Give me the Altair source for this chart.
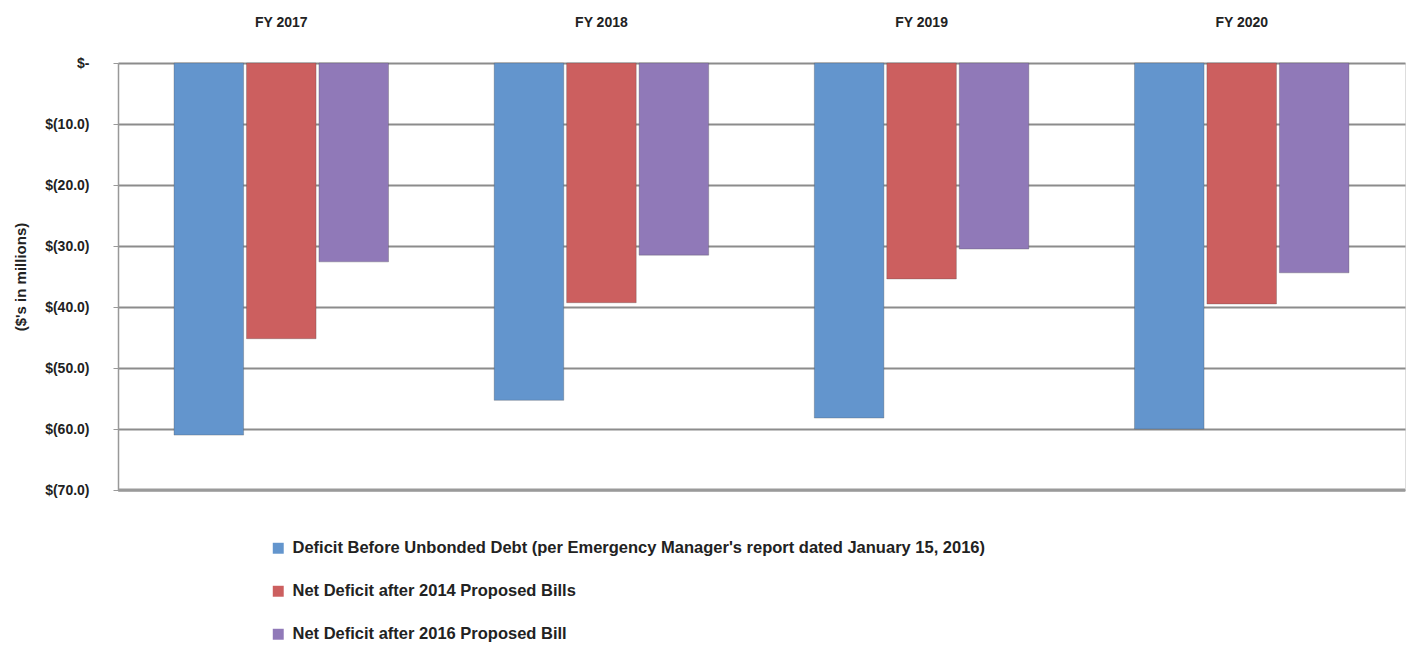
import altair as alt
import pandas as pd

years = ["FY 2017", "FY 2018", "FY 2019", "FY 2020"]
series = [
    "Deficit Before Unbonded Debt  (per Emergency Manager's report dated January 15, 2016)",
    "Net Deficit after 2014 Proposed Bills",
    "Net Deficit after 2016 Proposed Bill",
]
deficit_before = [-61.0, -55.3, -58.2, -60.0]
net_2014 = [-45.2, -39.3, -35.4, -39.5]
net_2016 = [-32.6, -31.5, -30.5, -34.4]
colors = ["#6395cd", "#cc5f5f", "#9079b8"]

rows = []
for vals, s in zip([deficit_before, net_2014, net_2016], series):
    for y, v in zip(years, vals):
        rows.append({"year": y, "series": s, "value": v})
df = pd.DataFrame(rows)

label_expr = "datum.value == 0 ? '$-' : '$(' + format(-datum.value, '.1f') + ')'"

bars = alt.Chart(df).mark_bar(stroke="#4a4a4a", strokeWidth=0.6, strokeOpacity=0.5).encode(
    x=alt.X("year:N", sort=years,
            scale=alt.Scale(paddingInner=0.33, paddingOuter=0.175),
            axis=alt.Axis(orient="top", title=None, labelAngle=0, ticks=False, domain=False,
                          labelPadding=34, labelFontSize=14, labelFontWeight="bold",
                          labelFont="Liberation Sans", labelColor="#222")),
    xOffset=alt.XOffset("series:N", sort=series, scale=alt.Scale(paddingInner=0.04)),
    y=alt.Y("value:Q", scale=alt.Scale(domain=[-70, 0], nice=False),
            axis=alt.Axis(title="($'s in millions)", values=[0, -10, -20, -30, -40, -50, -60, -70],
                          labelExpr=label_expr, labelFontSize=14, labelFontWeight="bold",
                          labelFont="Liberation Sans", labelColor="#222", labelPadding=24,
                          tickSize=5, tickColor="#999", domainColor="#999", domainWidth=1.5,
                          grid=True, gridColor="#8c8c8c", gridWidth=2,
                          titleFontSize=15, titleFontWeight="bold", titleFont="Liberation Sans",
                          titleColor="#222", titlePadding=16)),
    color=alt.Color("series:N", sort=series,
                    scale=alt.Scale(domain=series, range=colors),
                    legend=alt.Legend(orient="none", legendX=152, legendY=477, title=None,
                                      direction="vertical", symbolType="square", symbolSize=120,
                                      symbolStrokeWidth=0, labelFontSize=16.5,
                                      labelFontWeight="bold", labelFont="Liberation Sans",
                                      labelColor="#222", labelLimit=1000, rowPadding=26,
                                      labelOffset=6)),
)

base_line = alt.Chart(pd.DataFrame({"v": [-70]})).mark_rule(color="#9a9a9a", strokeWidth=3).encode(
    y=alt.Y("v:Q")
)

chart = alt.layer(bars, base_line).properties(
    width=1287, height=427,
    autosize=alt.AutoSizeParams(type="none"),
    padding={"left": 118, "top": 63, "right": 4, "bottom": 157},
).configure_view(stroke="#c8c8c8", strokeWidth=1).configure(background="white")

chart.save("out.html", embed_options={"renderer": "svg", "actions": False})
